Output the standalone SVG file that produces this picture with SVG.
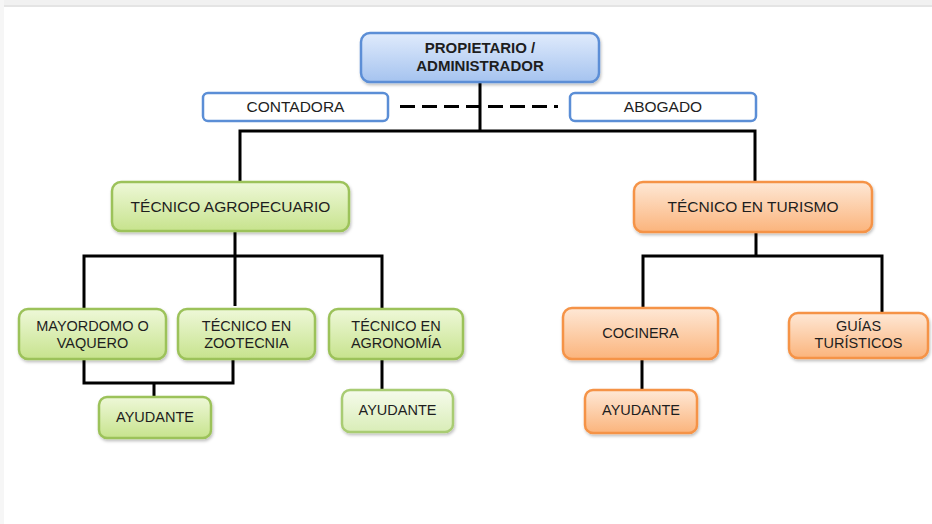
<svg xmlns="http://www.w3.org/2000/svg" width="932" height="524" viewBox="0 0 932 524">
<defs>
<linearGradient id="gBlue" x1="0" y1="0" x2="0" y2="1"><stop offset="0" stop-color="#e0ebfc"/><stop offset="1" stop-color="#a5c3ef"/></linearGradient>
<linearGradient id="gGreen" x1="0" y1="0" x2="0" y2="1"><stop offset="0" stop-color="#eef8d8"/><stop offset="1" stop-color="#c7e38d"/></linearGradient>
<linearGradient id="gGreenL" x1="0" y1="0" x2="0" y2="1"><stop offset="0" stop-color="#f6fbec"/><stop offset="1" stop-color="#d9edb7"/></linearGradient>
<linearGradient id="gOrange" x1="0" y1="0" x2="0" y2="1"><stop offset="0" stop-color="#fee8d6"/><stop offset="1" stop-color="#fbb47c"/></linearGradient>
<filter id="sh" x="-10%" y="-10%" width="120%" height="130%"><feDropShadow dx="1" dy="2" stdDeviation="1.5" flood-color="#000" flood-opacity="0.25"/></filter>
</defs>
<style>
.b{stroke-width:2.5;filter:url(#sh)}
.blue{fill:url(#gBlue);stroke:#5b8ed6}
.plain{fill:#fff;stroke:#5b8ed6;stroke-width:2.5}
.green{fill:url(#gGreen);stroke:#9cc25a}
.greenl{fill:url(#gGreenL);stroke:#a9cc73}
.orange{fill:url(#gOrange);stroke:#f59346}
text{font-family:"Liberation Sans",Arial,sans-serif;fill:#1e1e1e;text-anchor:middle}
.t15{font-size:15.5px}
.t14{font-size:14.5px}
.bold{font-weight:bold;font-size:15px}
.c{fill:none;stroke:#000;stroke-width:3}
</style>
<rect x="0" y="0" width="932" height="524" fill="#fff"/>
<rect x="0" y="0" width="932" height="6" fill="#f1f1f1"/>
<rect x="0" y="5" width="932" height="2" fill="#e4e4e4"/>
<rect x="0" y="0" width="4" height="524" fill="#f6f6f6"/>

<g id="connectors">
<path class="c" d="M480 82V131M240 182V131H755V182"/>
<path class="c" d="M400 106.5H558" stroke-dasharray="15 7"/>
<path class="c" d="M235 231V256M84 309V256H382V309M235 256V306"/>
<path class="c" d="M84 360V383H233V360M154 383V397"/>
<path class="c" d="M382 360V389"/>
<path class="c" d="M756 232V256M643 308V256H882V312"/>
<path class="c" d="M642 359V389"/>
</g>

<g id="propietario"><rect class="b blue" x="361" y="33" width="238" height="49" rx="9"/>
<text class="bold" x="480" y="53">PROPIETARIO /</text><text class="bold" x="480" y="71">ADMINISTRADOR</text></g>
<g id="contadora"><rect class="plain" x="203" y="93" width="185" height="28" rx="5"/>
<text class="t15" x="295.5" y="112">CONTADORA</text></g>
<g id="abogado"><rect class="plain" x="570" y="93" width="186" height="28" rx="5"/>
<text class="t15" x="663" y="112">ABOGADO</text></g>

<g id="agropecuario"><rect class="b green" x="112" y="182" width="237" height="49" rx="9"/>
<text class="t15" x="230.5" y="212">TÉCNICO AGROPECUARIO</text></g>
<g id="mayordomo"><rect class="b green" x="19" y="309" width="147" height="50" rx="9"/>
<text class="t14" x="92.5" y="331">MAYORDOMO O</text><text class="t14" x="92.5" y="348">VAQUERO</text></g>
<g id="zootecnia"><rect class="b green" x="178" y="309" width="137" height="50" rx="9"/>
<text class="t14" x="246.5" y="331">TÉCNICO EN</text><text class="t14" x="246.5" y="348">ZOOTECNIA</text></g>
<g id="agronomia"><rect class="b green" x="329" y="309" width="134" height="50" rx="9"/>
<text class="t14" x="396" y="331">TÉCNICO EN</text><text class="t14" x="396" y="348">AGRONOMÍA</text></g>
<g id="ayudante1"><rect class="b green" x="99" y="397" width="112" height="41" rx="8"/>
<text class="t14" x="155" y="422">AYUDANTE</text></g>
<g id="ayudante2"><rect class="b greenl" x="342" y="390" width="111" height="42" rx="8"/>
<text class="t14" x="397.5" y="415">AYUDANTE</text></g>

<g id="turismo"><rect class="b orange" x="634" y="182" width="238" height="50" rx="9"/>
<text class="t15" x="753" y="212">TÉCNICO EN TURISMO</text></g>
<g id="cocinera"><rect class="b orange" x="563" y="308" width="155" height="51" rx="9"/>
<text class="t14" x="640.5" y="338">COCINERA</text></g>
<g id="guias"><rect class="b orange" x="789" y="313" width="139" height="45" rx="9"/>
<text class="t14" x="858.5" y="331">GUÍAS</text><text class="t14" x="858.5" y="348">TURÍSTICOS</text></g>
<g id="ayudante3"><rect class="b orange" x="585" y="390" width="112" height="43" rx="8"/>
<text class="t14" x="641" y="415">AYUDANTE</text></g>
</svg>
